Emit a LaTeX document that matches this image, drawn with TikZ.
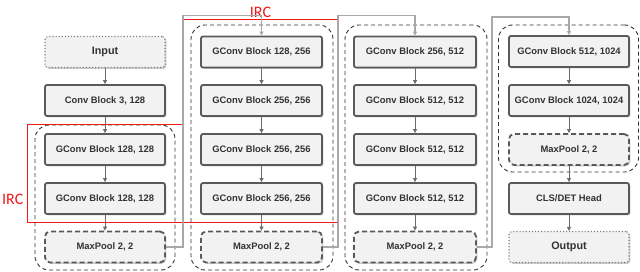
\documentclass[tikz,border=0pt]{standalone}
\usepackage{fontspec}
\setmainfont{Liberation Sans}
\newfontfamily\ircfont{Carlito}
\usetikzlibrary{shadows,arrows.meta,calc}
\definecolor{boxfill}{HTML}{F2F2F2}
\definecolor{boxline}{HTML}{5A5A5A}
\definecolor{txt}{HTML}{333333}
\definecolor{lnk}{HTML}{A8A8A8}
\definecolor{ircred}{HTML}{F01818}
\tikzset{
  blockbase/.style={rectangle, fill=boxfill, text=txt, font=\bfseries\fontsize{9.4}{10}\selectfont,
    minimum width=120pt, minimum height=31pt, inner sep=0pt,
    drop shadow={shadow xshift=1.4pt, shadow yshift=-1.4pt, fill=black!35, opacity=0.6}},
  convbox/.style={blockbase, draw=boxline, line width=1.8pt, rounded corners=2pt},
  poolbox/.style={blockbase, draw=boxline, line width=1.8pt, rounded corners=5pt, dash pattern=on 5pt off 3pt},
  iobox/.style={blockbase, draw=boxline!80, line width=1.1pt, rounded corners=3pt, dotted, font=\bfseries\fontsize{10.8}{12}\selectfont},
  groupbox/.style={rectangle, draw=black!80, line width=0.9pt, dash pattern=on 4pt off 3pt, rounded corners=14pt, inner sep=0pt},
  ircbox/.style={rectangle, draw=ircred, line width=1pt, inner sep=0pt},
  flow/.style={draw=boxline!90, line width=0.8pt, -{Triangle[length=4pt,width=4pt]}},
  link/.style={draw=lnk, line width=1.2pt, -{Triangle[length=4pt,width=4pt]}},
  irclabel/.style={text=ircred, font=\ircfont\fontsize{16}{18}\selectfont, inner sep=0pt}
}
\begin{document}
\begin{tikzpicture}[x=1pt,y=-1pt]
\useasboundingbox (0,0) rectangle (640,272);
% groups
\node[groupbox, minimum width=140pt, minimum height=145pt] (grp1) at (105,197.5) {};
\node[groupbox, minimum width=142pt, minimum height=245pt] (grp2) at (262,147.5) {};
\node[groupbox, minimum width=142pt, minimum height=245pt] (grp3) at (416,147.5) {};
\node[groupbox, minimum width=140pt, minimum height=147pt] (grp4) at (568.5,98.5) {};
% column 1
\node[iobox] (inp) at (105,52) {Input};
\node[convbox] (c1) at (105,100.5) {Conv Block 3, 128};
\node[convbox] (g11) at (105,149.5) {GConv Block 128, 128};
\node[convbox] (g12) at (105,198.5) {GConv Block 128, 128};
\node[poolbox] (mp1) at (105,247) {MaxPool 2, 2};
% column 2
\node[convbox, minimum width=121pt] (g21) at (261.5,52) {GConv Block 128, 256};
\node[convbox, minimum width=121pt] (g22) at (261.5,100.5) {GConv Block 256, 256};
\node[convbox, minimum width=121pt] (g23) at (261.5,149.5) {GConv Block 256, 256};
\node[convbox, minimum width=121pt] (g24) at (261.5,198.5) {GConv Block 256, 256};
\node[poolbox, minimum width=121pt] (mp2) at (261.5,247) {MaxPool 2, 2};
% column 3
\node[convbox, minimum width=122pt] (g31) at (415,52) {GConv Block 256, 512};
\node[convbox, minimum width=122pt] (g32) at (415,100.5) {GConv Block 512, 512};
\node[convbox, minimum width=122pt] (g33) at (415,149.5) {GConv Block 512, 512};
\node[convbox, minimum width=122pt] (g34) at (415,198.5) {GConv Block 512, 512};
\node[poolbox, minimum width=122pt] (mp3) at (415,247) {MaxPool 2, 2};
% column 4
\node[convbox] (g41) at (569,51.5) {GConv Block 512, 1024};
\node[convbox] (g42) at (569,100.5) {GConv Block 1024, 1024};
\node[poolbox] (mp4) at (569,149.5) {MaxPool 2, 2};
\node[convbox] (head) at (569,198.5) {CLS/DET Head};
\node[iobox] (outp) at (569,247) {Output};
% IRC boxes
\node[ircbox, minimum width=155pt, minimum height=98pt] (irc1) at (104.5,174) {};
\node[ircbox, minimum width=155pt, minimum height=203pt] (irc2) at (260.5,121.5) {};
\node[irclabel, anchor=east] (irc1lab) at ([xshift=-3pt,yshift=-25pt]irc1.east -| irc1.west) {IRC};
\node[irclabel, anchor=south] (irc2lab) at ([yshift=2pt]irc2.north) {IRC};
% flows
\draw[flow] (inp) -- (c1);
\draw[flow] (c1) -- (g11);
\draw[flow] (g11) -- (g12);
\draw[flow] (g12) -- (mp1);
\draw[flow] (g21) -- (g22);
\draw[flow] (g22) -- (g23);
\draw[flow] (g23) -- (g24);
\draw[flow] (g24) -- (mp2);
\draw[flow] (g31) -- (g32);
\draw[flow] (g32) -- (g33);
\draw[flow] (g33) -- (g34);
\draw[flow] (g34) -- (mp3);
\draw[flow] (g41) -- (g42);
\draw[flow] (g42) -- (mp4);
\draw[flow] (mp4) -- (head);
\draw[flow] (head) -- (outp);
% links between columns
\draw[link] (mp1.east) -- ++(17,0) |- ([yshift=20pt]g21.north) -- (g21.north);
\draw[link] (mp2.east) -- ++(15,0) |- ([yshift=20pt]g31.north) -- (g31.north);
\draw[link] (mp3.east) -- ++(15,0) |- ([yshift=18pt]g41.north) -- (g41.north);
\end{tikzpicture}
\end{document}
